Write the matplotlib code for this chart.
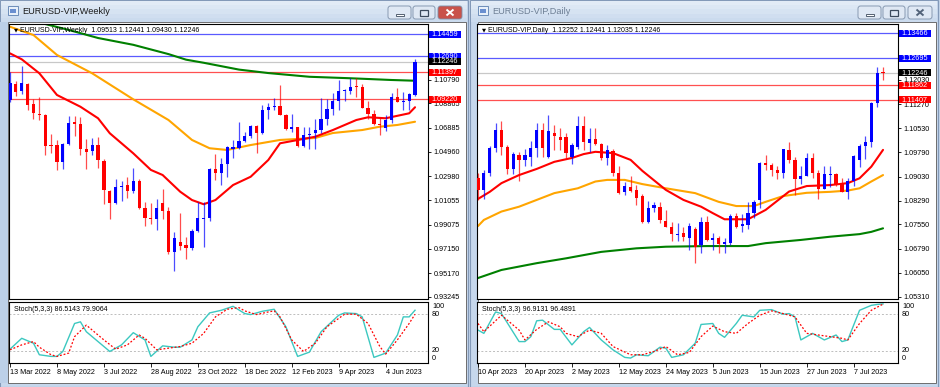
import numpy as np
import matplotlib
matplotlib.use("Agg")
import matplotlib.pyplot as plt
from matplotlib.patches import Rectangle, FancyBboxPatch

plt.rcParams['font.family'] = ['Liberation Sans', 'DejaVu Sans']

# ---------------- weekly EURUSD, 13 Mar 2022 .. 9 Jul 2023 ----------------
w_dates = ['13 Mar 2022', '8 May 2022', '3 Jul 2022', '28 Aug 2022', '23 Oct 2022',
           '18 Dec 2022', '12 Feb 2023', '9 Apr 2023', '4 Jun 2023']
w_open = [1.0912, 1.1040, 1.0985, 1.1040, 1.0880, 1.0800, 1.0790, 1.0552, 1.0550, 1.0410,
          1.0560, 1.0735, 1.0720, 1.0515, 1.0505, 1.0555, 1.0420, 1.0180, 1.0080, 1.0210,
          1.0225, 1.0180, 1.0260, 1.0040, 0.9965, 0.9950, 1.0085, 1.0015, 0.9690, 0.9770,
          0.9740, 0.9720, 0.9860, 0.9955, 0.9960, 1.0355, 1.0325, 1.0400, 1.0520, 1.0530,
          1.0585, 1.0620, 1.0705, 1.0645, 1.0830, 1.0855, 1.0870, 1.0795, 1.0680, 1.0695,
          1.0545, 1.0635, 1.0645, 1.0670, 1.0760, 1.0840, 1.0905, 1.0985, 1.0990, 1.1025,
          1.1020, 1.0850, 1.0805, 1.0722, 1.0690, 1.0750, 1.0940, 1.0895, 1.0910, 1.09513]
w_high = [1.1137, 1.1070, 1.1185, 1.1055, 1.0925, 1.0936, 1.0805, 1.0642, 1.0590, 1.0564,
          1.0787, 1.0786, 1.0774, 1.0601, 1.0606, 1.0615, 1.0440, 1.0185, 1.0278, 1.0258,
          1.0293, 1.0368, 1.0275, 1.0090, 1.0079, 1.0113, 1.0198, 1.0050, 0.9852, 0.9999,
          0.9810, 0.9875, 1.0093, 1.0088, 1.0365, 1.0480, 1.0449, 1.0545, 1.0595, 1.0737,
          1.0658, 1.0713, 1.0713, 1.0875, 1.0888, 1.0930, 1.1033, 1.0800, 1.0805, 1.0700,
          1.0693, 1.0695, 1.0760, 1.0930, 1.0925, 1.0973, 1.1075, 1.1000, 1.1095, 1.1092,
          1.1045, 1.0905, 1.0830, 1.0780, 1.0790, 1.0970, 1.1012, 1.0976, 1.0970, 1.12441]
w_low = [1.0900, 1.0945, 1.0960, 1.0837, 1.0758, 1.0757, 1.0470, 1.0483, 1.0350, 1.0354,
         1.0550, 1.0627, 1.0473, 1.0359, 1.0470, 1.0366, 1.0072, 0.9952, 1.0075, 1.0096,
         1.0123, 1.0160, 1.0035, 0.9900, 0.9910, 0.9863, 0.9955, 0.9670, 0.9535, 0.9700,
         0.9630, 0.9705, 0.9850, 0.9730, 0.9935, 1.0270, 1.0225, 1.0290, 1.0445, 1.0520,
         1.0573, 1.0608, 1.0483, 1.0640, 1.0765, 1.0835, 1.0795, 1.0669, 1.0655, 1.0533,
         1.0532, 1.0516, 1.0517, 1.0650, 1.0712, 1.0790, 1.0830, 1.0910, 1.0965, 1.0942,
         1.0850, 1.0760, 1.0710, 1.0635, 1.0665, 1.0730, 1.0895, 1.0835, 1.0833, 1.09430]
w_close = [1.1050, 1.0983, 1.1049, 1.0876, 1.0807, 1.0790, 1.0545, 1.0545, 1.0410, 1.0560,
           1.0732, 1.0719, 1.0518, 1.0495, 1.0555, 1.0430, 1.0185, 1.0080, 1.0212, 1.0220,
           1.0180, 1.0260, 1.0040, 0.9965, 0.9955, 1.0040, 1.0015, 0.9690, 0.9800, 0.9735,
           0.9720, 0.9860, 0.9965, 0.9962, 1.0355, 1.0325, 1.0400, 1.0535, 1.0535, 1.0585,
           1.0620, 1.0705, 1.0645, 1.0830, 1.0855, 1.0870, 1.0795, 1.0680, 1.0695, 1.0545,
           1.0635, 1.0640, 1.0670, 1.0760, 1.0840, 1.0905, 1.0990, 1.0990, 1.1020, 1.1020,
           1.0850, 1.0805, 1.0722, 1.0710, 1.0750, 1.0940, 1.0895, 1.0910, 1.0965, 1.12246]

# moving averages (bar index, price)
w_green_x = [0, 6, 10, 15, 21, 27, 30, 33, 39, 44, 51, 58, 65, 69]
w_green = [1.1580, 1.1528, 1.1480, 1.1415, 1.1360, 1.1285, 1.1240, 1.1215, 1.1160, 1.1132,
           1.1102, 1.1090, 1.1076, 1.1070]
w_orange_x = [0, 4, 8, 14, 21, 27, 31, 34, 37, 41, 46, 52, 55, 60, 63, 66, 69]
w_orange = [1.1506, 1.1439, 1.1278, 1.1130, 1.0920, 1.0753, 1.0592, 1.0525, 1.0511, 1.0551,
            1.0592, 1.0608, 1.0648, 1.0672, 1.0699, 1.0713, 1.0739]
w_red_x = [0, 2, 5, 8, 12, 15, 17, 21, 24, 26, 29, 31, 33, 35, 38, 41, 44, 46, 52, 55, 59,
           61, 64, 68, 69]
w_red = [1.1291, 1.1243, 1.1130, 1.0955, 1.0860, 1.0767, 1.0646, 1.0484, 1.0350, 1.0309,
         1.0174, 1.0107, 1.0073, 1.0107, 1.0228, 1.0295, 1.0430, 1.0565, 1.0618, 1.0672,
         1.0753, 1.0775, 1.0767, 1.0807, 1.0856]
w_levels = [(1.14459, 'blue'), (1.12690, 'blue'), (1.11397, 'red'), (1.09220, 'red')]
w_ticks = [0.93245, 0.95170, 0.97150, 0.99075, 1.01055, 1.02980, 1.04960, 1.06885,
           1.08865, 1.10790]

# stochastic (5,3,3) weekly
w_k_x = [0, 2, 4, 5, 7, 8, 9, 11, 12, 13, 15, 17, 19, 21, 23, 24, 26, 28, 29, 31, 32, 34,
         36, 38, 40, 41, 43, 45, 47, 49, 51, 53, 56, 57, 59, 60, 62, 64, 66, 67, 68, 69]
w_k = [22.7, 40.5, 32.4, 13.5, 10.8, 10.8, 18.9, 64.8, 67.5, 51.3, 35.1, 18.9, 29.7, 49.7,
       37.8, 10.8, 28.1, 25.9, 25.9, 37.8, 59.4, 82.1, 86.4, 92.9, 81.0, 79.4, 84.8, 88.1,
       59.4, 10.8, 17.8, 51.3, 78.3, 82.1, 81.0, 75.6, 9.2, 16.2, 45.9, 75.6, 75.6, 86.5]
w_d_x = [0, 2, 4, 5, 7, 8, 10, 11, 13, 14, 16, 18, 20, 22, 23, 25, 27, 29, 31, 33, 35, 37,
         39, 40, 42, 44, 45, 46, 48, 50, 52, 54, 57, 59, 61, 63, 64, 66, 68, 69]
w_d = [21.6, 29.7, 35.1, 25.9, 13.5, 10.8, 16.2, 43.2, 62.1, 54.0, 37.8, 22.7, 29.7, 45.9,
       40.5, 21.6, 24.3, 27.0, 32.4, 48.6, 75.6, 88.1, 90.8, 85.4, 79.4, 83.7, 85.4, 75.6,
       37.8, 18.9, 32.4, 59.4, 80.0, 80.0, 64.8, 27.0, 14.6, 38.0, 64.8, 79.9]

# ---------------- daily EURUSD, 10 Apr 2023 .. 14 Jul 2023 ----------------
d_dates = ['10 Apr 2023', '20 Apr 2023', '2 May 2023', '12 May 2023', '24 May 2023',
           '5 Jun 2023', '15 Jun 2023', '27 Jun 2023', '7 Jul 2023']
d_open = [1.0900, 1.0862, 1.0914, 1.0991, 1.1048, 1.0996, 1.0926, 1.0970, 1.0955, 1.0965,
          1.0991, 1.1048, 1.0965, 1.1038, 1.1025, 1.1025, 1.0965, 1.0996, 1.1060, 1.1007,
          1.1019, 1.1003, 1.0960, 1.0983, 1.0914, 1.0855, 1.0872, 1.0862, 1.0843, 1.0764,
          1.0806, 1.0810, 1.0766, 1.0748, 1.0722, 1.0727, 1.0714, 1.0742, 1.0691, 1.0763,
          1.0707, 1.0712, 1.0695, 1.0697, 1.0781, 1.0749, 1.0753, 1.0791, 1.0830, 1.0945,
          1.0940, 1.0925, 1.0915, 1.0985, 1.0955, 1.0895, 1.0905, 1.0960, 1.0915, 1.0865,
          1.0908, 1.0910, 1.0880, 1.0855, 1.0890, 1.0955, 1.0998, 1.1010, 1.1130, 1.12252]
d_high = [1.0915, 1.0925, 1.0998, 1.1068, 1.1076, 1.1001, 1.0980, 1.0979, 1.0990, 1.1012,
          1.1068, 1.1068, 1.1094, 1.1063, 1.1054, 1.1038, 1.1008, 1.1091, 1.1091, 1.1053,
          1.1053, 1.1008, 1.1001, 1.0990, 1.0935, 1.0885, 1.0905, 1.0878, 1.0850, 1.0829,
          1.0825, 1.0825, 1.0800, 1.0762, 1.0760, 1.0748, 1.0760, 1.0748, 1.0779, 1.0780,
          1.0727, 1.0720, 1.0712, 1.0786, 1.0790, 1.0788, 1.0823, 1.0830, 1.0950, 1.0970,
          1.0945, 1.0935, 1.0990, 1.1011, 1.0965, 1.0935, 1.0975, 1.0976, 1.0925, 1.0935,
          1.0935, 1.0915, 1.0900, 1.0900, 1.0970, 1.1005, 1.1030, 1.1135, 1.1244, 1.12441]
d_low = [1.0832, 1.0833, 1.0905, 1.0980, 1.0970, 1.0910, 1.0910, 1.0891, 1.0935, 1.0935,
         1.0965, 1.0965, 1.0962, 1.0985, 1.0985, 1.0962, 1.0942, 1.0990, 1.0985, 1.0980,
         1.1001, 1.0955, 1.0939, 1.0905, 1.0850, 1.0845, 1.0855, 1.0815, 1.0760, 1.0760,
         1.0795, 1.0760, 1.0747, 1.0705, 1.0705, 1.0705, 1.0675, 1.0634, 1.0665, 1.0705,
         1.0675, 1.0667, 1.0665, 1.0690, 1.0745, 1.0733, 1.0740, 1.0775, 1.0805, 1.0925,
         1.0905, 1.0895, 1.0900, 1.0945, 1.0845, 1.0880, 1.0905, 1.0900, 1.0833, 1.0865,
         1.0870, 1.0875, 1.0855, 1.0835, 1.0875, 1.0933, 1.0957, 1.0995, 1.1120, 1.12035]
d_close = [1.0862, 1.0914, 1.0991, 1.1048, 1.0996, 1.0926, 1.0972, 1.0955, 1.0970, 1.0991,
           1.1048, 1.0991, 1.1045, 1.1029, 1.1017, 1.0975, 1.1001, 1.1060, 1.1011, 1.1019,
           1.1003, 1.0960, 1.0986, 1.0914, 1.0852, 1.0874, 1.0860, 1.0837, 1.0764, 1.0806,
           1.0815, 1.0769, 1.0748, 1.0725, 1.0725, 1.0717, 1.0749, 1.0686, 1.0763, 1.0707,
           1.0712, 1.0695, 1.0700, 1.0781, 1.0748, 1.0755, 1.0791, 1.0826, 1.0945, 1.0940,
           1.0925, 1.0915, 1.0988, 1.0955, 1.0895, 1.0905, 1.0960, 1.0915, 1.0865, 1.0910,
           1.0912, 1.0880, 1.0855, 1.0890, 1.0967, 1.0998, 1.1010, 1.1130, 1.1225, 1.12246]

d_red_x = [0, 2, 4, 7, 10, 13, 16, 18, 20, 23, 26, 28, 32, 35, 38, 40, 42, 46, 49, 53, 56,
           60, 63, 65, 67, 69]
d_red = [1.0834, 1.0856, 1.0883, 1.0908, 1.0927, 1.0949, 1.0961, 1.0973, 1.0980, 1.0976,
         1.0955, 1.0921, 1.0862, 1.0831, 1.0810, 1.0790, 1.0771, 1.0771, 1.0800, 1.0857,
         1.0874, 1.0877, 1.0883, 1.0898, 1.0934, 1.0986]
d_orange_x = [0, 1, 4, 7, 10, 13, 17, 20, 22, 25, 28, 32, 37, 41, 44, 47, 49, 52, 56, 60,
              63, 65, 67, 69]
d_orange = [1.0750, 1.0769, 1.0795, 1.0810, 1.0831, 1.0852, 1.0867, 1.0888, 1.0893, 1.0893,
            1.0880, 1.0867, 1.0852, 1.0825, 1.0812, 1.0812, 1.0825, 1.0843, 1.0853, 1.0856,
            1.0860, 1.0867, 1.0888, 1.0908]
d_green_x = [0, 4, 10, 15, 21, 27, 32, 39, 46, 49, 55, 60, 65, 67, 69]
d_green = [1.0589, 1.0614, 1.0635, 1.0650, 1.0670, 1.0681, 1.0686, 1.0688, 1.0688, 1.0697,
           1.0707, 1.0717, 1.0725, 1.0732, 1.0743]
d_levels = [(1.13466, 'blue'), (1.12695, 'blue'), (1.11862, 'red'), (1.11407, 'red')]
d_ticks = [1.05310, 1.06050, 1.06790, 1.07550, 1.08290, 1.09030, 1.09790, 1.10530,
           1.11270, 1.12030]

d_k_x = [0, 1, 3, 4, 7, 8, 9, 10, 11, 13, 14, 16, 18, 19, 21, 23, 25, 26, 27, 29, 31, 32,
         33, 35, 37, 38, 40, 41, 42, 44, 45, 47, 48, 50, 52, 53, 54, 55, 57, 59, 61, 62, 63,
         65, 67, 68, 69]
d_k = [54.0, 48.6, 83.7, 81.0, 35.1, 35.1, 43.2, 69.2, 70.2, 55.1, 55.1, 29.7, 51.3, 58.3,
       37.8, 21.6, 9.2, 8.1, 13.5, 11.9, 25.9, 24.3, 9.2, 13.5, 32.4, 63.2, 64.8, 48.6, 42.1,
       64.8, 78.3, 75.6, 86.4, 87.5, 80.0, 81.0, 75.6, 37.8, 48.6, 37.8, 45.9, 35.1, 37.8,
       86.4, 94.5, 96.0, 96.9]
d_d_x = [0, 1, 4, 7, 8, 10, 12, 14, 15, 17, 19, 21, 23, 26, 28, 30, 32, 34, 36, 38, 40, 42,
         44, 46, 48, 50, 52, 54, 56, 58, 60, 62, 63, 65, 67, 69]
d_d = [64.8, 51.3, 78.3, 54.0, 37.8, 55.1, 67.5, 59.4, 48.6, 43.2, 54.0, 48.6, 27.0, 13.5,
       13.5, 18.9, 27.0, 13.5, 17.3, 43.2, 60.5, 51.3, 48.6, 64.8, 78.3, 85.4, 81.0, 75.6,
       48.6, 45.9, 43.2, 40.5, 37.8, 64.8, 86.4, 96.5]

BLUE = '#0000ff'
RED = '#ff0000'
LINE_COL = {'blue': '#5a5aff', 'red': '#ff5050'}
BOX_COL = {'blue': '#0000ff', 'red': '#ff0000'}
FS = 5.2
W, H = 940, 387
TOP, BOT = 24, 299          # main plot, pixel rows
S_TOP, S_BOT = 302, 363     # stochastic window
STEP = 5.87                 # pixels per bar

fig = plt.figure(figsize=(W / 100, H / 100), dpi=100)
fig.patch.set_facecolor('#c3d5ea')
bg = fig.add_axes([0, 0, 1, 1])
bg.set_xlim(0, W)
bg.set_ylim(H, 0)
bg.axis('off')


def px_axes(x0, y0, x1, y1, z=1):
    return fig.add_axes([x0 / W, 1 - y1 / H, (x1 - x0) / W, (y1 - y0) / H], zorder=z)


def rect(ax, x0, y0, x1, y1, **kw):
    ax.add_patch(Rectangle((x0, y0), x1 - x0, y1 - y0, **kw))


def window(x0, x1, title, active):
    rect(bg, x0, 0, x1, H, fc='#c6d7ec', ec='#8399b8', lw=0.8)
    shades = ['#e2ebf6', '#dce7f4', '#d6e3f2', '#d0def0', '#cbdbee']
    for k, col in enumerate(shades):
        rect(bg, x0 + 1, 1 + k * 4.2, x1 - 1, 5.2 + k * 4.2, fc=col, ec='none')
    # little chart icon
    rect(bg, x0 + 8, 6, x0 + 18, 15, fc='#e8f0fa', ec='#5b7fb0', lw=0.6)
    rect(bg, x0 + 10, 9, x0 + 16, 13, fc='#6a8fd0', ec='none')
    bg.text(x0 + 22, 11.5, title, fontsize=6.6, va='center', ha='left',
            color='#1b1b1b' if active else '#6e7f95')
    # caption buttons
    specs = [(x1 - 80, x1 - 57), (x1 - 55, x1 - 33), (x1 - 30, x1 - 6)]
    for k, (b0, b1) in enumerate(specs):
        fc = '#c9524a' if (k == 2 and active) else '#dfe8f4'
        bg.add_patch(FancyBboxPatch((b0, 6), b1 - b0, 13, boxstyle='round,pad=0,rounding_size=2.5',
                                    fc=fc, ec='#7c8fa8', lw=0.6))
    cx = (specs[0][0] + specs[0][1]) / 2
    rect(bg, cx - 4, 13.5, cx + 4, 15.5, fc='white', ec='#3c4a5c', lw=0.6)
    cx = (specs[1][0] + specs[1][1]) / 2
    rect(bg, cx - 4, 9.5, cx + 4, 15.5, fc='none', ec='#3c4a5c', lw=0.9)
    cx = (specs[2][0] + specs[2][1]) / 2
    xc = 'white' if active else '#53647a'
    bg.plot([cx - 3.5, cx + 3.5], [9.5, 15.5], color=xc, lw=1.4, solid_capstyle='butt')
    bg.plot([cx - 3.5, cx + 3.5], [15.5, 9.5], color=xc, lw=1.4, solid_capstyle='butt')
    # white client area of the chart
    rect(bg, x0 + 8, 22, x1 - 2, 383, fc='white', ec='#6d6d6d', lw=0.7)


def chart(px0, px1, o, h, l, c, ylo, yhi, minh, ticks, levels, mas, k_x, k, d_x, d, header,
          sheader, dates):
    o, h, l, c = map(np.asarray, (o, h, l, c))
    idx = np.arange(len(o))
    # first bar sits one pixel inside the left frame
    xlim = (-1 / STEP, (px1 - px0 - 1) / STEP)

    ax = px_axes(px0, TOP, px1, BOT, z=2)
    ax.set_xlim(*xlim)
    ax.set_ylim(ylo, yhi)
    for lev, kind in levels:
        ax.axhline(lev, color=LINE_COL[kind], lw=0.9, zorder=1)
    ax.axhline(c[-1], color='#c8c8c8', lw=0.9, zorder=1)
    for mx, my, col in mas:
        ax.plot(mx, my, color=col, lw=1.5, zorder=2, solid_capstyle='round')
    bull = c >= o
    cols = np.where(bull, BLUE, RED)
    ax.vlines(idx, l, h, colors=cols, lw=0.9, alpha=0.7, zorder=3)
    ax.bar(idx, np.maximum(np.abs(c - o), minh), bottom=np.minimum(o, c), width=0.55,
           color=cols, edgecolor='none', zorder=4)
    ax.text(0.011, 0.978, '\u25bc', transform=ax.transAxes, fontsize=3.8,
            family='DejaVu Sans', va='center', ha='left', zorder=6)
    ax.text(0.027, 0.978, header, transform=ax.transAxes, fontsize=5.0, va='center',
            ha='left', zorder=6)
    ax.set_xticks([])
    ax.yaxis.tick_right()
    ax.set_yticks(ticks)
    ax.set_yticklabels([f'{t:.5f}' for t in ticks])
    ax.tick_params(axis='y', labelsize=FS, length=2, width=0.6, pad=2, colors='#000000')
    for s in ax.spines.values():
        s.set_color('black')
        s.set_linewidth(0.8)

    # stochastic subwindow
    sx = px_axes(px0, S_TOP, px1, S_BOT, z=2)
    sx.set_xlim(*xlim)
    sx.set_ylim(0, 100)
    for lvl in (20, 80):
        sx.axhline(lvl, color='#bdbdbd', lw=0.7, ls=(0, (2, 2)))
    sx.plot(k_x, k, color='#3cc8c0', lw=1.0)
    sx.plot(d_x, d, color=RED, lw=0.9, ls=(0, (1.5, 1.5)))
    sx.text(0.012, 0.87, sheader, transform=sx.transAxes, fontsize=5.0, va='center',
            ha='left')
    sx.set_yticks([])
    sx.set_xticks(range(0, 65, 8))
    sx.set_xticklabels(dates)
    sx.tick_params(axis='x', labelsize=FS, length=3, width=0.6, pad=1.5)
    for lab in sx.get_xticklabels():
        lab.set_ha('left')
    for s in sx.spines.values():
        s.set_color('black')
        s.set_linewidth(0.8)
    return ax


def price_to_px(p, ylo, yhi):
    return TOP + (yhi - p) / (yhi - ylo) * (BOT - TOP)


# windows
window(0, 468, 'EURUSD-VIP,Weekly', True)
window(470, 938, 'EURUSD-VIP,Daily', False)
rect(bg, 0, 22, 8, 383, fc='#bcd0e8', ec='none')

W_LO, W_HI = 0.9308, 1.1528
D_LO, D_HI = 1.0524, 1.1376

chart(9, 428, w_open, w_high, w_low, w_close, W_LO, W_HI, 0.0008, w_ticks, w_levels,
      [(w_green_x, w_green, '#008000'), (w_orange_x, w_orange, '#ffa500'),
       (w_red_x, w_red, '#ff0000')],
      w_k_x, w_k, w_d_x, w_d,
      'EURUSD-VIP,Weekly  1.09513 1.12441 1.09430 1.12246',
      'Stoch(5,3,3) 86.5143 79.9064', w_dates)
chart(477, 898, d_open, d_high, d_low, d_close, D_LO, D_HI, 0.0003, d_ticks, d_levels,
      [(d_green_x, d_green, '#008000'), (d_orange_x, d_orange, '#ffa500'),
       (d_red_x, d_red, '#ff0000')],
      d_k_x, d_k, d_d_x, d_d,
      'EURUSD-VIP,Daily  1.12252 1.12441 1.12035 1.12246',
      'Stoch(5,3,3) 96.9131 96.4891', d_dates)

# overlay: coloured price boxes and the stochastic scale
fg = fig.add_axes([0, 0, 1, 1], zorder=10)
fg.set_xlim(0, W)
fg.set_ylim(H, 0)
fg.axis('off')
for px1, lo, hi, levels, last in [(428, W_LO, W_HI, w_levels, w_close[-1]),
                                  (898, D_LO, D_HI, d_levels, d_close[-1])]:
    boxes = [(lev, BOX_COL[kind]) for lev, kind in levels] + [(last, '#000000')]
    for lev, col in boxes:
        y = price_to_px(lev, lo, hi)
        rect(fg, px1 + 1, y - 3.5, px1 + 33, y + 3.5, fc=col, ec='none')
        fg.text(px1 + 3, y + 0.3, f'{lev:.5f}', fontsize=FS, color='white', va='center',
                ha='left')
    for txt, y in [('100', 306), ('80', 314), ('20', 351), ('0', 359)]:
        fg.text(px1 + 4, y, txt, fontsize=FS, va='center', ha='left')

fig.savefig('out.png', dpi=100)
